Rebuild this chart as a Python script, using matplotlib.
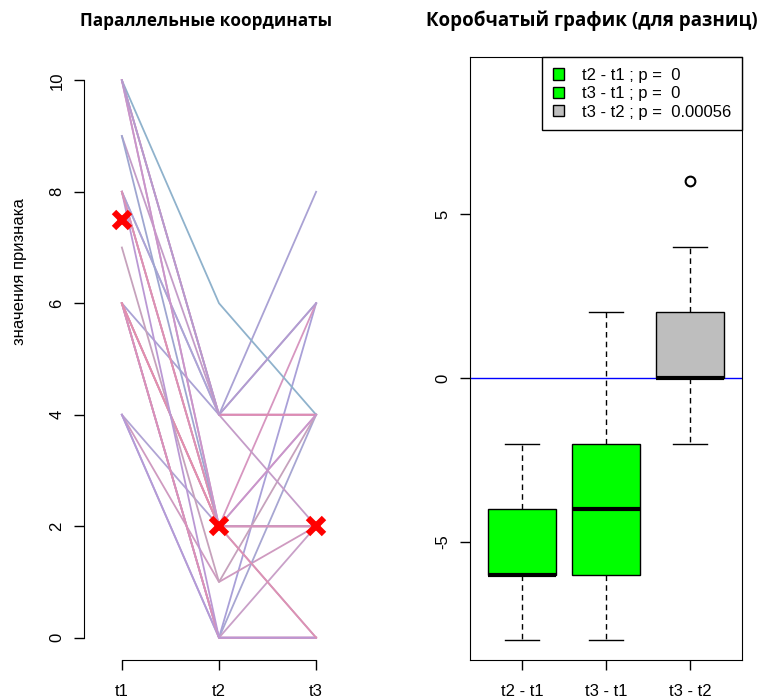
import numpy as np
import matplotlib.pyplot as plt
from matplotlib.patches import Patch

# three repeated measurements per subject
t1 = [4, 4, 4, 4, 6, 6, 6, 6, 6, 6, 6, 6, 6, 7, 8, 8, 8, 8, 8, 8, 9, 9, 10, 10, 10, 10, 10, 10]
t2 = [0, 2, 1, 0, 4, 2, 0, 0, 2, 0, 2, 0, 2, 1, 2, 2, 0, 4, 4, 2, 4, 2, 4, 6, 2, 4, 2, 4]
t3 = [6, 2, 2, 0, 8, 2, 0, 4, 4, 2, 0, 0, 2, 4, 2, 6, 0, 4, 6, 0, 2, 2, 4, 4, 2, 4, 4, 6]

time_labels = ["t1", "t2", "t3"]
diff_labels = ["t2 - t1", "t3 - t1", "t3 - t2"]
p_values = ["0", "0", "0.00056"]
box_colors = ["#00ff00", "#00ff00", "#bebebe"]

line_colors = ["#a9a0d8", "#b0a4d4", "#cf9ac0", "#b59ad6", "#aaa2d4", "#d699bc",
               "#e28fb0", "#a7a6d2", "#d8a0c4", "#c9a0c8", "#cc9cc0", "#dc90b8",
               "#e48eac", "#c6a2bc", "#e38aa8", "#d796c0", "#ba98d4", "#c89cd0",
               "#a9a6d6", "#dc92b4", "#c49cc8", "#9ea6d0", "#c990cc", "#8fb2cc",
               "#d894bc", "#e08cb0", "#c896cc", "#b49cd0"]

plt.rcParams['font.family'] = ['Liberation Sans', 'DejaVu Sans']
plt.rcParams['axes.unicode_minus'] = False

data = np.array([t1, t2, t3], dtype=float)
x = np.arange(1, 4)

fig = plt.figure(figsize=(7.64, 7.0), dpi=100)

# left panel: parallel coordinates
ax1 = fig.add_axes([84 / 764, 40 / 700, 270 / 764, 602 / 700])
for i in range(data.shape[1]):
    ax1.plot(x, data[:, i], color=line_colors[i % len(line_colors)], lw=1.3)
med = np.median(data, axis=1)
ax1.plot(x, med, ls="none", marker="x", color="red", ms=12, mew=4.5, zorder=5)

ax1.set_xlim(0.61, 3.39)
ax1.set_ylim(-0.4, 10.4)
for s in ["top", "right"]:
    ax1.spines[s].set_visible(False)
ax1.spines["left"].set_bounds(0, 10)
ax1.spines["bottom"].set_bounds(1, 3)
ax1.set_xticks(x)
ax1.set_xticklabels(time_labels)
ax1.set_yticks(np.arange(0, 11, 2))
ax1.tick_params(labelsize=12, length=7, width=1, pad=7)
ax1.tick_params(axis="x", pad=10)
plt.setp(ax1.get_yticklabels(), rotation=90, va="center")
fig.text(206 / 764, 1 - 21 / 700, "Параллельные координаты", ha="center", va="center",
         fontsize=12.3, fontweight="bold", family=["Open Sans", "DejaVu Sans"])
fig.text(20 / 764, 1 - 272 / 700, "значения признака", ha="center", va="center",
         rotation=90, fontsize=12)

# right panel: boxplots of the differences
diffs = [data[1] - data[0], data[2] - data[0], data[2] - data[1]]
ax2 = fig.add_axes([470 / 764, 40 / 700, 272 / 764, 603 / 700])
bp = ax2.boxplot(diffs, positions=x, widths=0.8, patch_artist=True, capwidths=0.4,
                 medianprops=dict(color="black", lw=3, solid_capstyle="butt"),
                 whiskerprops=dict(color="black", ls=(0, (4, 3)), lw=1),
                 capprops=dict(color="black", lw=1),
                 boxprops=dict(edgecolor="black", lw=1),
                 flierprops=dict(marker="o", mfc="none", mec="black", ms=7, mew=1.5))
for patch, c in zip(bp["boxes"], box_colors):
    patch.set_facecolor(c)
ax2.axhline(0, color="blue", lw=1, zorder=1)
ax2.set_xlim(0.38, 3.62)
ax2.set_ylim(-8.6, 9.79)
ax2.set_xticks(x)
ax2.set_xticklabels(diff_labels)
ax2.set_yticks([-5, 0, 5])
ax2.tick_params(labelsize=12, length=7, width=1, pad=7)
ax2.tick_params(axis="x", pad=10)
plt.setp(ax2.get_yticklabels(), rotation=90, va="center")
for s in ax2.spines.values():
    s.set_color("black")
fig.text(592 / 764, 1 - 21 / 700, "Коробчатый график (для разниц)", ha="center", va="center",
         fontsize=13.5, fontweight="bold", family=["Open Sans", "DejaVu Sans"])

handles = [Patch(facecolor=c, edgecolor="black") for c in box_colors]
labels = [f"{d} ; p =  {p}" for d, p in zip(diff_labels, p_values)]
leg = ax2.legend(handles, labels, loc="upper right", borderaxespad=0, fontsize=12,
                 fancybox=False, framealpha=1, edgecolor="black", handlelength=0.65,
                 handleheight=0.65, labelspacing=0.2, handletextpad=1.1, borderpad=0.65)
leg.get_frame().set_linewidth(1)

fig.savefig("out.png", dpi=100)
